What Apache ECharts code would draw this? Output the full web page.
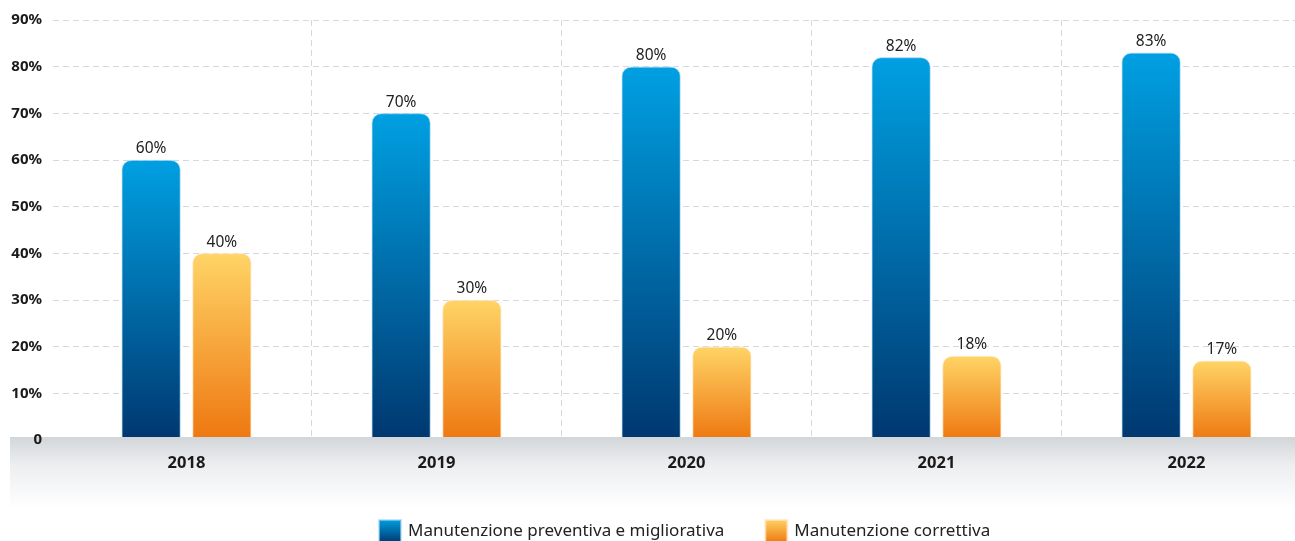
<!DOCTYPE html>
<html>
<head>
<meta charset="utf-8">
<title>Manutenzione</title>
<script src="https://cdn.jsdelivr.net/npm/echarts@6/dist/echarts.min.js"></script>
<style>
  html, body { margin: 0; padding: 0; background: #ffffff; }
  #chart { width: 1295px; height: 541px; }
</style>
</head>
<body>
<div id="chart"></div>
<script>
// Years on the category axis
const categories = ['2018', '2019', '2020', '2021', '2022'];
// Share of preventive / improvement maintenance (%)
const preventiva = [60, 70, 80, 82, 83];
// Share of corrective maintenance (%)
const correttiva = [40, 30, 20, 18, 17];
// Value axis range and step (%)
const yMin = 0;
const yMax = 90;
const yStep = 10;
const seriesNames = ['Manutenzione preventiva e migliorativa', 'Manutenzione correttiva'];

const FONT = 'Noto Sans';

const blueFill = new echarts.graphic.LinearGradient(0, 0, 0, 1, [
  { offset: 0, color: '#00a0e2' },
  { offset: 1, color: '#00376f' }
]);
const orangeFill = new echarts.graphic.LinearGradient(0, 0, 0, 1, [
  { offset: 0, color: '#ffd466' },
  { offset: 1, color: '#ee7710' }
]);

const dashed = { color: '#d5d8df', type: [6, 4], width: 1 };

const valueLabel = {
  show: true,
  position: 'top',
  distance: 3,
  fontFamily: FONT,
  fontSize: 15.5,
  color: '#222222',
  formatter: p => p.value + '%'
};

const chart = echarts.init(document.getElementById('chart'), null, { renderer: 'canvas' });

chart.setOption({
  backgroundColor: '#ffffff',
  animation: false,
  textStyle: { fontFamily: FONT },
  grid: [
    // bars: five 250px wide year slots, the last one running past the right edge
    { left: 61.5, width: 1250, top: 20, height: 420, containLabel: false, outerBoundsMode: 'none' },
    // horizontal guides and value labels
    { left: 53, right: 0, top: 20, height: 420, containLabel: false, outerBoundsMode: 'none' }
  ],
  graphic: [
    {
      type: 'rect',
      z: 50,
      silent: true,
      shape: { x: 10, y: 437, width: 1285, height: 80 },
      style: {
        fill: new echarts.graphic.LinearGradient(0, 0, 0, 1, [
          { offset: 0, color: '#d3d6d9' },
          { offset: 0.35, color: '#eceef0' },
          { offset: 0.9, color: '#ffffff' }
        ])
      }
    }
  ],
  legend: {
    left: 378,
    top: 519,
    padding: 0,
    itemWidth: 22,
    itemHeight: 22,
    itemGap: 40,
    icon: 'rect',
    textStyle: { fontFamily: FONT, fontSize: 17, color: '#222222', padding: [0, 0, 0, 2] },
    data: seriesNames
  },
  xAxis: [
    {
      gridIndex: 0,
      type: 'category',
      data: categories,
      z: 0,
      axisLine: { show: false },
      axisTick: { show: false },
      axisLabel: { show: false },
      splitLine: { show: true, showMinLine: false, showMaxLine: false, lineStyle: dashed }
    },
    {
      gridIndex: 0,
      type: 'category',
      data: categories,
      position: 'bottom',
      z: 60,
      axisLine: { show: false },
      axisTick: { show: false },
      splitLine: { show: false },
      axisLabel: {
        margin: 15,
        fontFamily: FONT,
        fontSize: 16.5,
        fontWeight: 'bold',
        color: '#1a1a1a'
      }
    },
    { gridIndex: 1, type: 'value', min: 0, max: 1, show: false }
  ],
  yAxis: [
    { gridIndex: 0, type: 'value', min: yMin, max: yMax, interval: yStep, show: false },
    {
      gridIndex: 1,
      type: 'value',
      min: yMin, max: yMax, interval: yStep,
      z: 0,
      axisLine: { show: false },
      axisTick: { show: false },
      axisLabel: { show: false },
      splitLine: { show: true, lineStyle: dashed }
    },
    {
      gridIndex: 1,
      type: 'value',
      position: 'left',
      min: yMin, max: yMax, interval: yStep,
      z: 60,
      axisLine: { show: false },
      axisTick: { show: false },
      splitLine: { show: false },
      axisLabel: {
        margin: 11,
        fontFamily: FONT,
        fontSize: 15,
        fontWeight: 'bold',
        color: '#1a1a1a',
        formatter: v => (v === 0 ? '0' : v + '%')
      }
    }
  ],
  series: [
    {
      name: seriesNames[0],
      type: 'bar',
      xAxisIndex: 0,
      yAxisIndex: 0,
      data: preventiva,
      barWidth: 59,
      barGap: '20%',
      itemStyle: {
        color: blueFill,
        borderRadius: [9, 9, 0, 0],
        borderColor: 'rgba(160,215,245,0.6)',
        borderWidth: 1
      },
      label: valueLabel
    },
    {
      name: seriesNames[1],
      type: 'bar',
      xAxisIndex: 0,
      yAxisIndex: 0,
      data: correttiva,
      barWidth: 59,
      barGap: '20%',
      itemStyle: {
        color: orangeFill,
        borderRadius: [9, 9, 0, 0],
        borderColor: 'rgba(255,230,190,0.7)',
        borderWidth: 1
      },
      label: valueLabel
    }
  ]
});
</script>
</body>
</html>
